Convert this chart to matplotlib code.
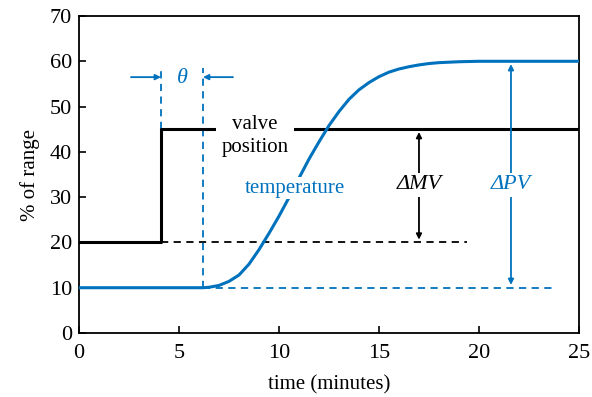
import matplotlib.pyplot as plt

plt.rcParams['font.family'] = ['Liberation Serif', 'DejaVu Serif']

blue = '#0072bd'

# valve position (step at t = 4.1)
valve_t = [0, 4.1, 4.1, 25]
valve_y = [20, 20, 45, 45]

# temperature response
temp_t = [0, 6.2, 6.5, 7, 7.5, 8, 8.5, 9, 9.5, 10, 10.5, 11, 11.5, 12, 12.5,
          13, 13.5, 14, 14.5, 15, 15.5, 16, 16.5, 17, 17.5, 18, 19, 20, 21, 25]
temp_y = [10, 10, 10.1, 10.5, 11.4, 12.8, 15.2, 18.4, 22, 25.8, 29.9, 34.2,
          38.4, 42.2, 45.8, 48.9, 51.6, 53.7, 55.3, 56.6, 57.6, 58.3, 58.8,
          59.2, 59.5, 59.7, 59.9, 60, 60, 60]

t_step = 4.1
t_dead = 6.2
mv_lo, mv_hi = 20, 45
pv_lo, pv_hi = 10, 60

fig = plt.figure(figsize=(5.92, 3.97), dpi=100)
ax = fig.add_axes([0.1334, 0.1612, 0.8446, 0.7985])

ax.plot(valve_t, valve_y, color='black', lw=2.2, zorder=3)
ax.plot(temp_t, temp_y, color=blue, lw=2.2, zorder=3)

dash = (0, (4, 3))
# baselines
ax.plot([t_step, 19.4], [mv_lo, mv_lo], color='black', lw=1.3, ls=dash)
ax.plot([t_dead, 23.8], [pv_lo, pv_lo], color=blue, lw=1.3, ls=dash)

# dead-time markers
ax.plot([t_step, t_step], [mv_hi, 58.5], color=blue, lw=1.3, ls=dash)
ax.plot([t_dead, t_dead], [pv_lo, 58.5], color=blue, lw=1.3, ls=dash)
ax.annotate('', xy=(t_step, 56.5), xytext=(2.6, 56.5),
            arrowprops=dict(arrowstyle='-|>', color=blue, lw=1.3,
                            mutation_scale=8, shrinkA=0, shrinkB=0))
ax.annotate('', xy=(t_dead, 56.5), xytext=(7.7, 56.5),
            arrowprops=dict(arrowstyle='-|>', color=blue, lw=1.3,
                            mutation_scale=8, shrinkA=0, shrinkB=0))
ax.text(5.15, 56.3, 'θ', color=blue, fontsize=16, style='italic',
        ha='center', va='center')

# delta arrows
ax.annotate('', xy=(17, mv_hi), xytext=(17, mv_lo),
            arrowprops=dict(arrowstyle='<|-|>', color='black', lw=1.3,
                            mutation_scale=8, shrinkA=2, shrinkB=2))
ax.text(17, 32.7, 'ΔMV', color='black', fontsize=16, style='italic',
        ha='center', va='center',
        bbox=dict(facecolor='white', edgecolor='none', pad=2), zorder=4)
ax.annotate('', xy=(21.6, pv_hi), xytext=(21.6, pv_lo),
            arrowprops=dict(arrowstyle='<|-|>', color=blue, lw=1.3,
                            mutation_scale=8, shrinkA=2, shrinkB=2))
ax.text(21.6, 32.7, 'ΔPV', color=blue, fontsize=16, style='italic',
        ha='center', va='center',
        bbox=dict(facecolor='white', edgecolor='none', pad=2), zorder=4)

# labels
ax.text(8.8, 43.5, 'valve\nposition', color='black', fontsize=15,
        ha='center', va='center', linespacing=1.25,
        bbox=dict(facecolor='white', edgecolor='none', pad=4), zorder=4)
ax.text(10.8, 32, 'temperature', color=blue, fontsize=15,
        ha='center', va='center',
        bbox=dict(facecolor='white', edgecolor='none', pad=1), zorder=4)

ax.set_xlim(0, 25)
ax.set_ylim(0, 70)
ax.set_xticks([0, 5, 10, 15, 20, 25])
ax.set_yticks(range(0, 71, 10))
ax.tick_params(direction='in', labelsize=16, length=5, width=1.2)
ax.tick_params(axis='x', pad=8)
ax.tick_params(axis='y', pad=5)
for s in ax.spines.values():
    s.set_linewidth(1.3)
ax.set_xlabel('time (minutes)', fontsize=15, labelpad=9)
ax.set_ylabel('% of range', fontsize=15, labelpad=7)

fig.savefig('out.png', dpi=100)
